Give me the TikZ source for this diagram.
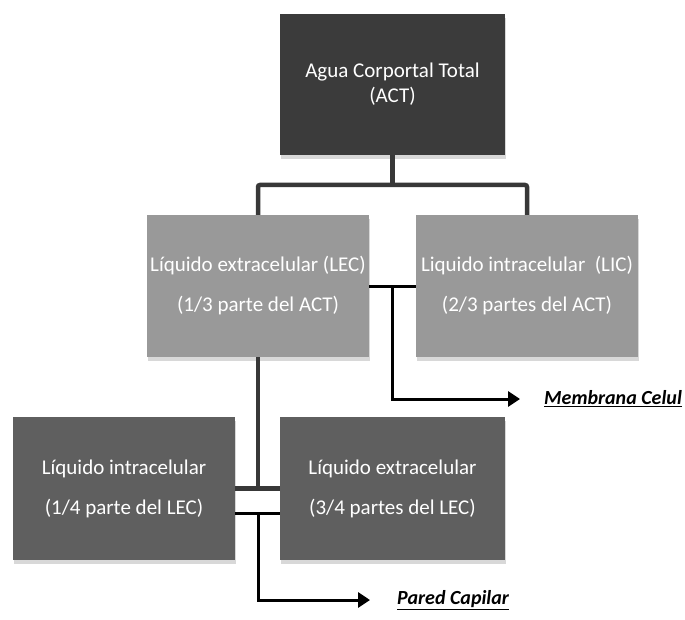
\documentclass[tikz,border=0pt]{standalone}
\usepackage{fontspec}
\setmainfont{Carlito}
\usetikzlibrary{arrows.meta,shadows,calc}

\definecolor{actgris}{HTML}{3B3B3B}
\definecolor{claro}{HTML}{999999}
\definecolor{medio}{HTML}{5F5F5F}
\definecolor{linea}{HTML}{383838}

\tikzset{
  caja/.style={rectangle, inner sep=0pt, text=white, align=center,
    font=\fontsize{21}{40}\selectfont,
    drop shadow={shadow xshift=1pt, shadow yshift=-4pt, opacity=.3, fill=black!50}},
  arbol/.style={draw=linea, line width=4.5pt, rounded corners=2pt},
  corte/.style={draw=black, line width=3pt},
  flecha/.style={draw=black, line width=3pt, -{Triangle[length=12pt,width=15pt]}},
  nota/.style={anchor=west, inner sep=0pt, font=\fontsize{20}{22}\selectfont\bfseries\itshape}
}

\begin{document}
\begin{tikzpicture}[x=1pt,y=-1pt]
    \useasboundingbox[fill=white] (0,0) rectangle (685,620);
    \begin{scope}
      \node[caja, fill=actgris, minimum width=225pt, minimum height=141pt,
        font=\fontsize{21}{25}\selectfont] (act) at (392.5,84.5)
        {Agua Corportal Total\\(ACT)};

      \node[caja, fill=claro, minimum width=222pt, minimum height=142pt] (lec) at (258,286)
        {Líquido extracelular (LEC)\\(1/3 parte del ACT)};
      \node[caja, fill=claro, minimum width=222pt, minimum height=142pt] (lic) at (527,286)
        {Liquido intracelular~~(LIC)\\(2/3 partes del ACT)};

      \node[caja, fill=medio, minimum width=222pt, minimum height=143pt] (lic2) at (124,488.5)
        {Líquido intracelular\\(1/4 parte del LEC)};
      \node[caja, fill=medio, minimum width=225pt, minimum height=143pt] (lec2) at (392.5,488.5)
        {Líquido extracelular\\(3/4 partes del LEC)};

      \node[nota] (memb) at (544,399) {\underline{Membrana Celul}};
      \node[nota] (pared) at (397,600) {\underline{Pared Capilar}};

      \coordinate (hub) at (act.south |- 0,185);
      \path[arbol] (act.south) -- (hub);
      \path[arbol] (lec.north) |- (hub) -| (lic.north);
      \path[arbol] (lec.south) -- (lec.south |- lic2.east);
      \path[arbol, rounded corners=0pt] (lic2.east) -- (lec2.west);

      \coordinate (mc) at ($(lec.east)!.5!(lic.west)$);
      \path[corte] (lec.east) -- (lic.west);
      \path[flecha, shorten >=24pt] (mc) |- (memb.west);

      \coordinate (pc) at ([yshift=-25pt]lec.south |- lic2.east);
      \path[corte] ([yshift=-25pt]lic2.east) -- ([yshift=-25pt]lec2.west);
      \path[flecha, shorten >=27pt] (pc) |- (pared.west);
    \end{scope}
\end{tikzpicture}
\end{document}
